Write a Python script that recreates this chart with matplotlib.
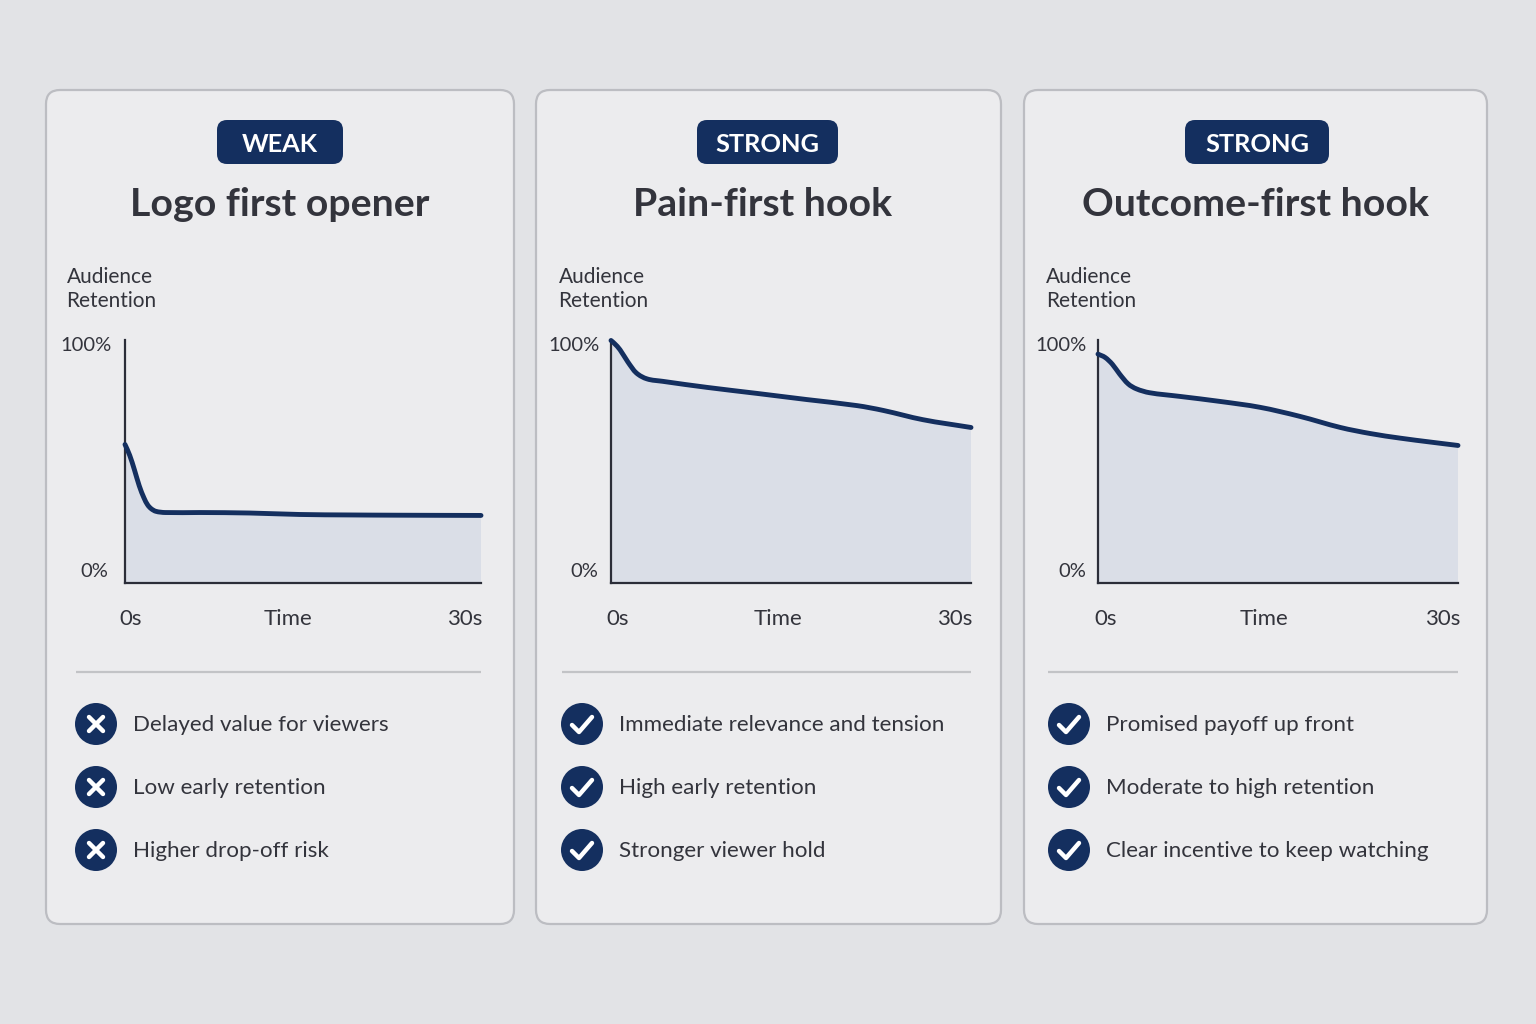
import numpy as np
import matplotlib
matplotlib.use("Agg")
import matplotlib.pyplot as plt
from matplotlib.patches import FancyBboxPatch, Circle, PathPatch
from matplotlib.path import Path
from matplotlib.transforms import ScaledTranslation

plt.rcParams['font.family'] = ['Lato', 'DejaVu Sans']

badges = ["WEAK", "STRONG", "STRONG"]
titles = ["Logo first opener", "Pain-first hook", "Outcome-first hook"]
y_title = "Audience\nRetention"
y_tick_labels = ["0%", "100%"]
x_tick_labels = ["0s", "Time", "30s"]

time_a = [0, 0.4, 0.8, 1.2, 1.6, 1.9, 2.2, 2.6, 3.4, 6.3, 10.5, 14.7, 19, 23, 30]
ret_a = [57, 52.5, 46.5, 40, 35, 32.2, 30.6, 29.5, 29, 29, 28.8, 28.2, 28, 27.9, 27.8]
time_b = [0, 0.3, 0.75, 1.4, 2.1, 3.0, 4.3, 8, 12.2, 16.3, 20.5, 22.7, 26, 30]
ret_b = [99.8, 98.5, 96, 91, 86.5, 84, 83, 80.5, 78, 75.5, 73, 71, 67.2, 64]
time_c = [0, 0.6, 1.2, 1.8, 2.5, 3.2, 4.3, 6.8, 10.2, 13.5, 16.8, 20.2, 22.7, 25.2, 27.7, 30]
ret_c = [94.2, 92.8, 90, 86, 82, 79.9, 78.3, 76.8, 74.7, 72.3, 68.6, 64, 61.5, 59.6, 58, 56.6]
series_times = [time_a, time_b, time_c]
series_values = [ret_a, ret_b, ret_c]
points = [
    ["Delayed value for viewers", "Low early retention", "Higher drop-off risk"],
    ["Immediate relevance and tension", "High early retention", "Stronger viewer hold"],
    ["Promised payoff up front", "Moderate to high retention", "Clear incentive to keep watching"],
]
marks = ["x", "check", "check"]

W, H = 1536, 1024
NAVY = "#142f5f"
INK = "#33343c"
fig = plt.figure(figsize=(W / 100, H / 100), dpi=100, facecolor="#e2e3e6")
bg = fig.add_axes([0, 0, 1, 1], zorder=0)
bg.set_xlim(0, W)
bg.set_ylim(H, 0)
bg.axis("off")

cards = [(46, 514), (536, 1001), (1024, 1487)]
pills = [(217, 343), (697, 838), (1185, 1329)]
title_x = [280, 763, 1256]
pill_x = [280, 767, 1257]
axes_x = [(125, 481), (611, 971), (1098, 1458)]
div_x = [(76, 481), (562, 971), (1048, 1458)]
label_x = [66.5, 558.5, 1046]
icon_x = [96, 582, 1069]
text_x = [133, 619, 1106]
row_y = [724, 787, 850]
# pixel offsets of the tick labels from their ticks
x_offs = [[6, -15, -16], [7, -13, -16], [8, -14, -15]]
yr = [(-17, -13), (-13, -11), (-12, -11)]


def rrect(x0, x1, y0, y1, r, **kw):
    bg.add_patch(FancyBboxPatch((x0 + r, y0 + r), x1 - x0 - 2 * r, y1 - y0 - 2 * r,
                                boxstyle=f"round,pad={r},rounding_size={r}", **kw))


def smooth_path(xs, ys):
    """Bezier path through the read points (Catmull-Rom tangents)."""
    xs, ys = np.asarray(xs, float), np.asarray(ys, float)
    mx = np.gradient(xs)
    my = np.gradient(ys)
    verts, codes = [(xs[0], ys[0])], [Path.MOVETO]
    for k in range(len(xs) - 1):
        h = xs[k + 1] - xs[k]
        sx0, sy0 = h / 3, my[k] / mx[k] * h / 3
        sx1, sy1 = h / 3, my[k + 1] / mx[k + 1] * h / 3
        verts += [(xs[k] + sx0, ys[k] + sy0), (xs[k + 1] - sx1, ys[k + 1] - sy1), (xs[k + 1], ys[k + 1])]
        codes += [Path.CURVE4] * 3
    return verts, codes


for i in range(3):
    rrect(*cards[i], 90, 924, 14, fc="#ececee", ec="#bcbdc2", lw=1.6)
    rrect(*pills[i], 120, 164, 10, fc=NAVY, ec="none")
    bg.text(pill_x[i], 144, badges[i], color="white", fontsize=18.3, fontweight="bold",
            ha="center", va="center")
    bg.text(title_x[i], 205, titles[i], color=INK, fontsize=28.3, fontweight="bold",
            ha="center", va="center")
    bg.text(label_x[i], 289, y_title, color=INK, fontsize=15, ha="left", va="center",
            linespacing=1.3)
    bg.plot(div_x[i], [672, 672], color="#c2c3c6", lw=1.6, solid_capstyle="butt")

    for y, txt in zip(row_y, points[i]):
        cx = icon_x[i]
        bg.add_patch(Circle((cx, y), 21, fc=NAVY, ec="none"))
        if marks[i] == "x":
            bg.plot([cx - 7, cx + 7], [y - 7, y + 7], color="white", lw=3.2, solid_capstyle="round")
            bg.plot([cx - 7, cx + 7], [y + 7, y - 7], color="white", lw=3.2, solid_capstyle="round")
        else:
            bg.plot([cx - 10, cx - 3, cx + 10], [y + 1, y + 8, y - 7], color="white", lw=3.2,
                    solid_capstyle="round", solid_joinstyle="round")
        bg.text(text_x[i], y + 1, txt, color=INK, fontsize=16.1, ha="left", va="center")

    x0, x1 = axes_x[i]
    ax = fig.add_axes([x0 / W, 1 - 583 / H, (x1 - x0) / W, 243 / H], zorder=1)
    ax.patch.set_alpha(0)
    ax.set_xlim(0, 30)
    ax.set_ylim(0, 100)
    verts, codes = smooth_path(series_times[i], series_values[i])
    area_v = verts + [(series_times[i][-1], 0), (series_times[i][0], 0), verts[0]]
    area_c = codes + [Path.LINETO, Path.LINETO, Path.CLOSEPOLY]
    ax.add_patch(PathPatch(Path(area_v, area_c), fc="#dadee7", ec="none", zorder=1))
    ax.add_patch(PathPatch(Path(verts, codes), fc="none", ec=NAVY, lw=3.5, zorder=3,
                           capstyle="round", joinstyle="round", clip_on=False))
    for s in ("top", "right"):
        ax.spines[s].set_visible(False)
    for s in ("left", "bottom"):
        ax.spines[s].set_color("#2b2d38")
        ax.spines[s].set_linewidth(1.6)
    ax.set_xticks([0, 15, 30], x_tick_labels)
    ax.set_yticks([0, 100], y_tick_labels)
    ax.tick_params(length=0, labelcolor=INK, pad=0)
    ax.tick_params(axis="x", labelsize=16)
    ax.tick_params(axis="y", labelsize=14.5)
    dpi = 100
    for lab, dx in zip(ax.get_xticklabels(), x_offs[i]):
        lab.set_transform(lab.get_transform() + ScaledTranslation(dx / dpi, -26 / dpi, fig.dpi_scale_trans))
    for lab, dx, dy in zip(ax.get_yticklabels(), yr[i], (13, -4)):
        lab.set_transform(lab.get_transform() + ScaledTranslation(dx / dpi, dy / dpi, fig.dpi_scale_trans))

fig.savefig("out.png", dpi=100, facecolor=fig.get_facecolor())
